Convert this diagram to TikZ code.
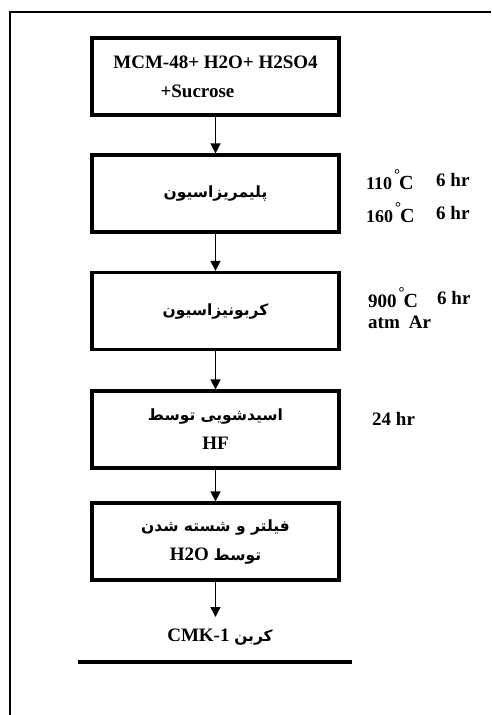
\documentclass[tikz,border=0pt]{standalone}
\usepackage{fontspec}
\setmainfont{Liberation Serif}
\newfontfamily\arabicfont[Script=Arabic]{DejaVu Sans}
\TeXXeTstate=1
\usetikzlibrary{arrows.meta}
\newcommand\fa{\arabicfont\fontsize{15.5}{29}\selectfont}
\newcommand\degC{\hspace{2pt}\raisebox{10pt}{\fontsize{15}{15}\selectfont °}\kern-1pt{\fontsize{20}{20}\selectfont C}}
\begin{document}
\begin{tikzpicture}[x=1pt,y=-1pt,
  stepbox/.style={draw,line width=3.2pt,minimum width=247pt,minimum height=77pt,
    inner sep=0pt,align=center,font=\fontsize{19}{29}\selectfont\bfseries},
  arr/.style={line width=1.4pt,-{Triangle[width=10pt,length=10pt]}},
  cond/.style={anchor=west,inner sep=0pt,font=\fontsize{19}{23}\selectfont\bfseries},
  result/.style={inner sep=0pt,font=\fontsize{19}{23}\selectfont\bfseries}]
\useasboundingbox (0,0) rectangle (491,715);
\draw[line width=2.5pt] (10,715) -- (10,12) -- (491,12);

\node[stepbox] (b1) at (215.5,76.5) {MCM-48+ H2O+ H2SO4\\\hspace*{-36pt}+Sucrose};
\node[stepbox] (b2) at (215.5,193.5) {{\fa\beginR پلیمریزاسیون\endR}};
\node[stepbox] (b3) at (215.5,311) {{\fa\beginR کربونیزاسیون\endR}};
\node[stepbox] (b4) at (215.5,429.5) {{\fa\beginR اسیدشویی توسط\endR}\\HF};
\node[stepbox] (b5) at (215.5,541.5) {{\fa\beginR فیلتر و شسته شدن\endR}\\\beginR{\fa توسط} \beginL H2O\endL\endR};
\node[result] (cmk) at (220,637) {\beginR{\fa کربن} \beginL CMK-1\endL\endR};

\draw[arr] (b1) -- (b2);
\draw[arr] (b2) -- (b3);
\draw[arr] (b3) -- (b4);
\draw[arr] (b4) -- (b5);
\draw[arr] (b5.south) -- (b5.south |- 0,617);

\coordinate (l1) at (78,662);
\coordinate (l2) at (352,662);
\draw[line width=3.5pt] (l1) -- (l2);

\node[cond] (c1) at (366,180) {{\fontsize{18}{18}\selectfont 110}\degC};
\node[cond] (h1) at (436,180) {6 hr};
\node[cond] (c2) at (366,213) {{\fontsize{18}{18}\selectfont 160}\degC};
\node[cond] (h2) at (436,213) {6 hr};
\node[cond] (c3) at (368,298) {900\degC};
\node[cond] (h3) at (437,298) {6 hr};
\node[cond] (c4) at (368,322) {atm\hspace{9pt}Ar};
\node[cond] (c5) at (372,419) {24 hr};
\end{tikzpicture}
\end{document}
